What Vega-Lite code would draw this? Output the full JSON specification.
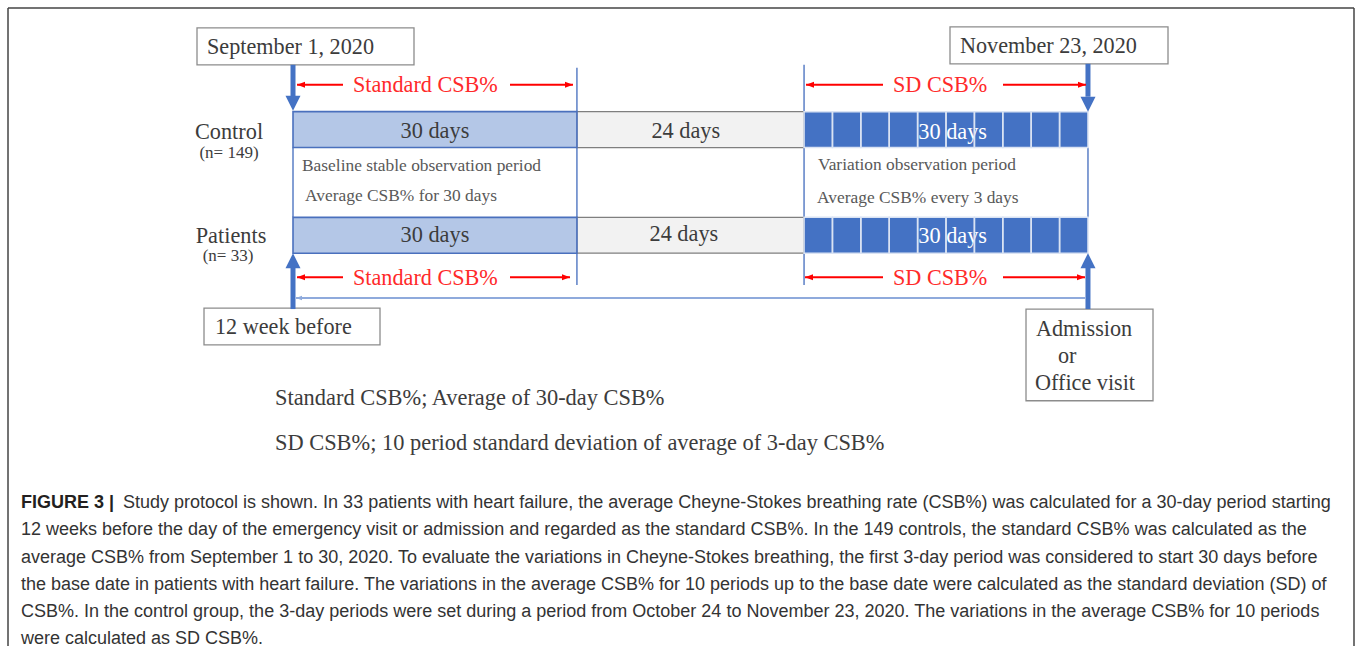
{
  "$schema": "https://vega.github.io/schema/vega-lite/v6.json",
  "width": 1357,
  "height": 648,
  "padding": 0,
  "autosize": {"type": "fit", "contains": "padding"},
  "background": "white",
  "config": {"view": {"stroke": null}},
  "datasets": {
    "frame": [
      {"x": -30.114, "x2": 112.109, "y": 8, "y2": 8},
      {"x": -30.114, "x2": -30.114, "y": 8, "y2": 648},
      {"x": 112.109, "x2": 112.109, "y": 8, "y2": 648}
    ],
    "boxes": [
      {"label": "September 1, 2020", "x": -10.144, "x2": 12.785, "y": 28, "y2": 65},
      {"label": "November 23, 2020", "x": 69.421, "x2": 92.456, "y": 27, "y2": 64},
      {"label": "12 week before", "x": -9.404, "x2": 9.193, "y": 309, "y2": 346},
      {"label": "Admission or Office visit", "x": 77.452, "x2": 90.871, "y": 310, "y2": 402}
    ],
    "guides": [
      {"x": 0, "y": 148, "y2": 218},
      {"x": 84, "y": 148, "y2": 218},
      {"x": 30, "y": 68, "y2": 286},
      {"x": 54, "y": 65, "y2": 286}
    ],
    "baseline": [
      {"x": 0.317, "x2": 83.685, "y": 299}
    ],
    "baselineHead": [
      {"x": 0.317, "y": 299, "dir": "left"}
    ],
    "grayBars": [
      {"group": "Control", "x": 30, "x2": 54, "y": 112, "y2": 148},
      {"group": "Patients", "x": 30, "x2": 54, "y": 218, "y2": 254}
    ],
    "lightBars": [
      {"group": "Control", "x": 0, "x2": 30, "y": 112, "y2": 148},
      {"group": "Patients", "x": 0, "x2": 30, "y": 218, "y2": 254}
    ],
    "cells": [
      {"group": "Control", "x": 54, "x2": 57, "y": 112, "y2": 148},
      {"group": "Control", "x": 57, "x2": 60, "y": 112, "y2": 148},
      {"group": "Control", "x": 60, "x2": 63, "y": 112, "y2": 148},
      {"group": "Control", "x": 63, "x2": 66, "y": 112, "y2": 148},
      {"group": "Control", "x": 66, "x2": 69, "y": 112, "y2": 148},
      {"group": "Control", "x": 69, "x2": 72, "y": 112, "y2": 148},
      {"group": "Control", "x": 72, "x2": 75, "y": 112, "y2": 148},
      {"group": "Control", "x": 75, "x2": 78, "y": 112, "y2": 148},
      {"group": "Control", "x": 78, "x2": 81, "y": 112, "y2": 148},
      {"group": "Control", "x": 81, "x2": 84, "y": 112, "y2": 148},
      {"group": "Patients", "x": 54, "x2": 57, "y": 218, "y2": 254},
      {"group": "Patients", "x": 57, "x2": 60, "y": 218, "y2": 254},
      {"group": "Patients", "x": 60, "x2": 63, "y": 218, "y2": 254},
      {"group": "Patients", "x": 63, "x2": 66, "y": 218, "y2": 254},
      {"group": "Patients", "x": 66, "x2": 69, "y": 218, "y2": 254},
      {"group": "Patients", "x": 69, "x2": 72, "y": 218, "y2": 254},
      {"group": "Patients", "x": 72, "x2": 75, "y": 218, "y2": 254},
      {"group": "Patients", "x": 75, "x2": 78, "y": 218, "y2": 254},
      {"group": "Patients", "x": 78, "x2": 81, "y": 218, "y2": 254},
      {"group": "Patients", "x": 81, "x2": 84, "y": 218, "y2": 254}
    ],
    "shafts": [
      {"x": 0, "y": 65, "y2": 97},
      {"x": 84, "y": 64, "y2": 97},
      {"x": 0, "y": 268, "y2": 310},
      {"x": 84, "y": 268, "y2": 310}
    ],
    "bigHeads": [
      {"x": 0, "y": 111, "dir": "down"},
      {"x": 84, "y": 112, "dir": "down"},
      {"x": 0, "y": 254, "dir": "up"},
      {"x": 84, "y": 254, "dir": "up"}
    ],
    "redLines": [
      {"x": 0.423, "x2": 5.283, "y": 85},
      {"x": 22.929, "x2": 29.586, "y": 85},
      {"x": 54.205, "x2": 62.342, "y": 85},
      {"x": 75.021, "x2": 83.791, "y": 85},
      {"x": 0.423, "x2": 5.283, "y": 278},
      {"x": 22.929, "x2": 29.27, "y": 278},
      {"x": 54.1, "x2": 62.342, "y": 278},
      {"x": 75.021, "x2": 83.685, "y": 278}
    ],
    "redHeads": [
      {"x": 0.423, "y": 85, "dir": "left"},
      {"x": 29.586, "y": 85, "dir": "right"},
      {"x": 54.205, "y": 85, "dir": "left"},
      {"x": 83.791, "y": 85, "dir": "right"},
      {"x": 0.423, "y": 278, "dir": "left"},
      {"x": 29.27, "y": 278, "dir": "right"},
      {"x": 54.1, "y": 278, "dir": "left"},
      {"x": 83.685, "y": 278, "dir": "right"}
    ],
    "textLeft": [
      {"t": "September 1, 2020", "x": -9.087, "y": 47},
      {"t": "November 23, 2020", "x": 70.478, "y": 46},
      {"t": "12 week before", "x": -8.242, "y": 328},
      {"t": "Admission", "x": 78.508, "y": 330},
      {"t": "or", "x": 80.833, "y": 357},
      {"t": "Office visit", "x": 78.403, "y": 384}
    ],
    "textLegend": [
      {"t": "Standard CSB%; Average of 30-day CSB%", "x": -1.902, "y": 399},
      {"t": "SD CSB%; 10 period standard deviation of average of 3-day CSB%", "x": -1.902, "y": 444}
    ],
    "textCenter": [
      {"t": "Control", "x": -6.762, "y": 132},
      {"t": "Patients", "x": -6.551, "y": 237},
      {"t": "30 days", "x": 15, "y": 131},
      {"t": "30 days", "x": 15, "y": 236},
      {"t": "24 days", "x": 41.5, "y": 131},
      {"t": "24 days", "x": 41.3, "y": 235}
    ],
    "textN": [
      {"t": "(n= 149)", "x": -6.762, "y": 153},
      {"t": "(n= 33)", "x": -6.868, "y": 257}
    ],
    "textNote": [
      {"t": "Baseline stable observation period", "x": 0.951, "y": 167},
      {"t": "Average CSB% for 30 days", "x": 1.268, "y": 197},
      {"t": "Variation observation period", "x": 55.474, "y": 166},
      {"t": "Average CSB% every 3 days", "x": 55.368, "y": 199}
    ],
    "textRed": [
      {"t": "Standard CSB%", "x": 6.34, "y": 85},
      {"t": "Standard CSB%", "x": 6.34, "y": 279},
      {"t": "SD CSB%", "x": 63.398, "y": 85},
      {"t": "SD CSB%", "x": 63.398, "y": 279}
    ],
    "textWhite": [
      {"t": "30 days", "x": 69.7, "y": 132},
      {"t": "30 days", "x": 69.7, "y": 237}
    ],
    "captionBold": [
      {"t": "FIGURE 3 |", "x": -28.741, "y": 505}
    ],
    "caption": [
      {"t": "Study protocol is shown. In 33 patients with heart failure, the average Cheyne-Stokes breathing rate (CSB%) was calculated for a 30-day period starting", "x": -17.963, "y": 505},
      {"t": "12 weeks before the day of the emergency visit or admission and regarded as the standard CSB%. In the 149 controls, the standard CSB% was calculated as the", "x": -28.741, "y": 532},
      {"t": "average CSB% from September 1 to 30, 2020. To evaluate the variations in Cheyne-Stokes breathing, the first 3-day period was considered to start 30 days before", "x": -28.741, "y": 560},
      {"t": "the base date in patients with heart failure. The variations in the average CSB% for 10 periods up to the base date were calculated as the standard deviation (SD) of", "x": -28.741, "y": 587},
      {"t": "CSB%. In the control group, the 3-day periods were set during a period from October 24 to November 23, 2020. The variations in the average CSB% for 10 periods", "x": -28.741, "y": 614},
      {"t": "were calculated as SD CSB%.", "x": -28.741, "y": 641}
    ]
  },
  "encoding": {
    "x": {"field": "x", "type": "quantitative", "scale": {"domain": [-30.96, 112.426], "nice": false, "zero": false}, "axis": null},
    "y": {"field": "y", "type": "quantitative", "scale": {"domain": [0, 648], "reverse": true, "nice": false, "zero": false}, "axis": null}
  },
  "layer": [
    {"data": {"name": "frame"}, "mark": {"type": "rule", "color": "#444444", "strokeWidth": 1.5},
     "encoding": {"x2": {"field": "x2"}, "y2": {"field": "y2"}}},
    {"data": {"name": "guides"}, "mark": {"type": "rule", "color": "#5b7fc6", "strokeWidth": 1.5},
     "encoding": {"y2": {"field": "y2"}}},
    {"data": {"name": "baseline"}, "mark": {"type": "rule", "color": "#8faadc", "strokeWidth": 2},
     "encoding": {"x2": {"field": "x2"}}},
    {"data": {"name": "baselineHead"}, "mark": {"type": "point", "filled": true, "opacity": 1, "strokeWidth": 0, "size": 36, "color": "#8faadc"},
     "encoding": {"shape": {"field": "dir", "type": "nominal", "legend": null, "scale": {"domain": ["left", "right", "down", "up"], "range": ["M0,0L2,-0.75L2,0.75Z", "M0,0L-2,-0.75L-2,0.75Z", "M0,0L-1,-2L1,-2Z", "M0,0L-1,2L1,2Z"]}}}},
    {"data": {"name": "boxes"}, "mark": {"type": "rect", "fill": "white", "stroke": "#8c8c8c", "strokeWidth": 1.3},
     "encoding": {"x2": {"field": "x2"}, "y2": {"field": "y2"}}},
    {"data": {"name": "grayBars"}, "mark": {"type": "rect", "fill": "#f2f2f2", "stroke": "#7f7f7f", "strokeWidth": 1.2},
     "encoding": {"x2": {"field": "x2"}, "y2": {"field": "y2"}}},
    {"data": {"name": "lightBars"}, "mark": {"type": "rect", "fill": "#b4c7e7", "stroke": "#4a70bd", "strokeWidth": 1.6},
     "encoding": {"x2": {"field": "x2"}, "y2": {"field": "y2"}}},
    {"data": {"name": "cells"}, "mark": {"type": "rect", "fill": "#4472c4", "strokeWidth": 0},
     "encoding": {"x2": {"field": "x2"}, "y2": {"field": "y2"}}},
    {"data": {"name": "textWhite"}, "mark": {"type": "text", "font": "Liberation Serif", "fontSize": 22.3, "color": "white", "align": "center", "baseline": "middle"},
     "encoding": {"text": {"field": "t"}}},
    {"data": {"name": "cells"}, "mark": {"type": "rect", "fill": "transparent", "stroke": "#dae3f3", "strokeWidth": 1.5},
     "encoding": {"x2": {"field": "x2"}, "y2": {"field": "y2"}}},
    {"data": {"name": "shafts"}, "mark": {"type": "rule", "color": "#4472c4", "strokeWidth": 5},
     "encoding": {"y2": {"field": "y2"}}},
    {"data": {"name": "bigHeads"}, "mark": {"type": "point", "filled": true, "opacity": 1, "strokeWidth": 0, "size": 225, "color": "#4472c4"},
     "encoding": {"shape": {"field": "dir", "type": "nominal", "legend": null, "scale": {"domain": ["left", "right", "down", "up"], "range": ["M0,0L2,-0.75L2,0.75Z", "M0,0L-2,-0.75L-2,0.75Z", "M0,0L-1,-2L1,-2Z", "M0,0L-1,2L1,2Z"]}}}},
    {"data": {"name": "redLines"}, "mark": {"type": "rule", "color": "#ff0000", "strokeWidth": 2},
     "encoding": {"x2": {"field": "x2"}}},
    {"data": {"name": "redHeads"}, "mark": {"type": "point", "filled": true, "opacity": 1, "strokeWidth": 0, "size": 64, "color": "#ff0000"},
     "encoding": {"shape": {"field": "dir", "type": "nominal", "legend": null, "scale": {"domain": ["left", "right", "down", "up"], "range": ["M0,0L2,-0.75L2,0.75Z", "M0,0L-2,-0.75L-2,0.75Z", "M0,0L-1,-2L1,-2Z", "M0,0L-1,2L1,2Z"]}}}},
    {"data": {"name": "textLeft"}, "mark": {"type": "text", "font": "Liberation Serif", "fontSize": 22.2, "color": "#3c3c3c", "align": "left", "baseline": "middle"},
     "encoding": {"text": {"field": "t"}}},
    {"data": {"name": "textLegend"}, "mark": {"type": "text", "font": "Liberation Serif", "fontSize": 22.4, "color": "#3c3c3c", "align": "left", "baseline": "middle"},
     "encoding": {"text": {"field": "t"}}},
    {"data": {"name": "textCenter"}, "mark": {"type": "text", "font": "Liberation Serif", "fontSize": 22.3, "color": "#3c3c3c", "align": "center", "baseline": "middle"},
     "encoding": {"text": {"field": "t"}}},
    {"data": {"name": "textN"}, "mark": {"type": "text", "font": "Liberation Serif", "fontSize": 17, "color": "#3c3c3c", "align": "center", "baseline": "middle"},
     "encoding": {"text": {"field": "t"}}},
    {"data": {"name": "textNote"}, "mark": {"type": "text", "font": "Liberation Serif", "fontSize": 17.4, "color": "#595959", "align": "left", "baseline": "middle"},
     "encoding": {"text": {"field": "t"}}},
    {"data": {"name": "textRed"}, "mark": {"type": "text", "font": "Liberation Serif", "fontSize": 22.2, "color": "#ff2a2a", "align": "left", "baseline": "middle"},
     "encoding": {"text": {"field": "t"}}},
    {"data": {"name": "captionBold"}, "mark": {"type": "text", "font": "Liberation Sans", "fontSize": 18, "fontWeight": "bold", "color": "#231f20", "align": "left", "baseline": "middle"},
     "encoding": {"text": {"field": "t"}}},
    {"data": {"name": "caption"}, "mark": {"type": "text", "font": "Liberation Sans", "fontSize": 18, "color": "#333333", "align": "left", "baseline": "middle"},
     "encoding": {"text": {"field": "t"}}}
  ]
}
